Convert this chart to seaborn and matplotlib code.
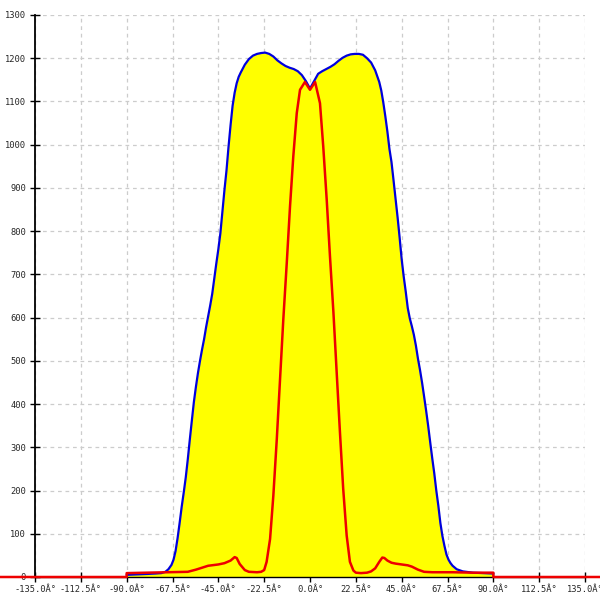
import matplotlib
matplotlib.use("Agg")
import matplotlib.pyplot as plt
import seaborn as sns
import pandas as pd

# blue envelope (filled yellow underneath)
blue_angle = [-90, -85, -80, -76, -73, -71, -69.5, -68, -67, -66, -65, -64, -63, -62, -61,
              -60, -59, -58, -57, -56, -55, -54, -53, -52, -51, -50, -49, -48, -47, -46,
              -45, -44, -43, -42, -41, -40, -39, -38, -37, -36, -35, -34, -32, -30, -28,
              -26, -24, -22, -20, -18, -16, -14, -12, -10, -8, -6, -4, -2, 0, 2, 4, 6, 8,
              10, 12, 14, 16, 18, 20, 22, 24, 26, 28, 30, 32, 34, 35, 36, 37, 38, 39, 40,
              41, 42, 43, 44, 45, 46, 47, 48, 49, 50, 51, 52, 53, 54, 55, 56, 57, 58, 59,
              60, 61, 62, 63, 64, 65, 66, 67, 68, 69, 70, 72, 75, 80, 85, 90]
blue_value = [5, 6, 7, 8, 9, 12, 18, 28, 40, 60, 90, 125, 162, 195, 230,
              272, 318, 362, 405, 440, 472, 500, 526, 550, 578, 603, 628, 655, 690, 725,
              758, 795, 845, 895, 940, 995, 1045, 1090, 1120, 1142, 1157, 1167, 1185, 1198, 1206,
              1210, 1212, 1213, 1210, 1204, 1195, 1188, 1182, 1178, 1175, 1170, 1161, 1147, 1130, 1147, 1164, 1170, 1175,
              1180, 1186, 1194, 1201, 1206, 1209, 1210, 1210, 1208, 1200, 1190, 1172, 1145, 1125, 1097, 1065, 1030, 990, 960,
              918, 875, 832, 785, 735, 695, 660, 622, 598, 580, 560, 535, 505, 479, 450, 418, 385, 350, 312,
              275, 240, 200, 165, 125, 95, 72, 52, 40, 32, 26, 18, 13, 10, 9, 8]

# red curve, zero outside +-90
red_angle = [-180, -90, -90, -80, -70, -60, -56, -54, -50, -45, -42, -39, -37, -36, -34.5,
             -32, -30, -26, -24, -22.5, -21.3, -19.6, -18, -16.3, -14.7, -13.1, -11.4, -9.8,
             -8.2, -6.5, -4.9, -2.5, 0, 2.5, 4.9, 6.5, 8.2, 9.8, 11.5, 13.1, 14.7, 16.3, 18,
             19.6, 21.3, 22.5, 25, 28, 30, 32, 34, 35.5, 36.5, 38, 40, 42, 45, 48, 50, 53,
             56, 60, 70, 80, 90, 90, 180]
red_value = [0, 0, 9, 10, 11, 12, 17, 20, 26, 29, 32, 38, 46, 44, 30,
             16, 12, 11, 12, 16, 35, 88, 188, 319, 458, 596, 727, 858,
             973, 1073, 1127, 1145, 1127, 1145, 1096, 996, 873, 742, 612, 473, 335, 204, 96,
             35, 15, 10, 9, 10, 13, 20, 35, 45, 44, 38, 33, 31, 29, 27, 24, 17,
             12, 11, 11, 10, 10, 0, 0]

x_ticks = [-135, -112.5, -90, -67.5, -45, -22.5, 0, 22.5, 45, 67.5, 90, 112.5, 135]
x_tick_labels = [f"{t:.1f}Â°" for t in x_ticks]
y_ticks = list(range(0, 1400, 100))

blue_df = pd.DataFrame({"angle": blue_angle, "value": blue_value})
red_df = pd.DataFrame({"angle": red_angle, "value": red_value})

sns.set_style("white")
plt.rcParams["font.family"] = ["DejaVu Sans Mono"]

fig = plt.figure(figsize=(6, 6), dpi=100)
ax = fig.add_axes([35 / 600, 23 / 600, 550 / 600, 562 / 600])

ax.fill_between(blue_df["angle"], 0, blue_df["value"], color="#ffff00", lw=0, zorder=1)
sns.lineplot(data=blue_df, x="angle", y="value", ax=ax, color="#0000dd", lw=1.6,
             estimator=None, sort=False, zorder=3)
sns.lineplot(data=red_df, x="angle", y="value", ax=ax, color="#ee0000", lw=1.8,
             estimator=None, sort=False, zorder=4, clip_on=False)

ax.set_xlim(-135, 135)
ax.set_ylim(0, 1300)
ax.set_xticks(x_ticks)
ax.set_xticklabels(x_tick_labels)
ax.set_yticks(y_ticks)
ax.set_yticklabels([str(v) for v in y_ticks])
ax.set_xlabel("")
ax.set_ylabel("")

ax.grid(True, color="#cccccc", ls=(0, (3, 3)), lw=0.9, zorder=0)
ax.set_axisbelow(True)
for side in ["top", "right"]:
    ax.spines[side].set_visible(False)
ax.spines["left"].set_color("black")
ax.spines["left"].set_linewidth(1.3)
ax.spines["bottom"].set_color("black")
ax.spines["bottom"].set_linewidth(1.0)
ax.tick_params(axis="y", direction="inout", length=7, width=1, color="black",
               labelsize=6.3, pad=3, left=True)
ax.tick_params(axis="x", direction="inout", length=7, width=1, color="black",
               labelsize=6.3, pad=2, bottom=True)

plt.savefig("out.png", dpi=100)
